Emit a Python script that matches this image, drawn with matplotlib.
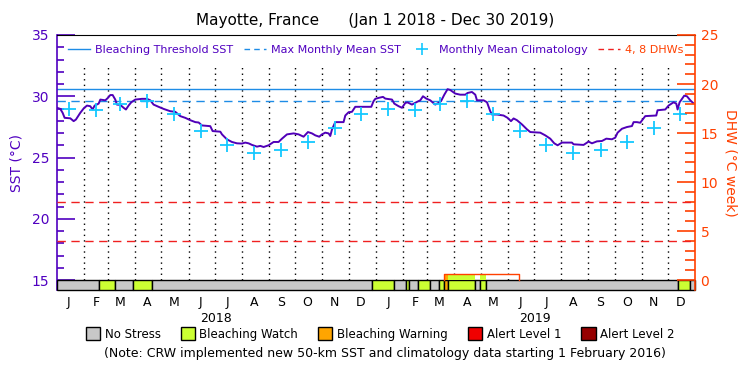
import numpy as np
import matplotlib
matplotlib.use('Agg')
import matplotlib.pyplot as plt
from matplotlib.patches import Patch, Rectangle
from matplotlib.lines import Line2D
import matplotlib.transforms as mtrans

# ---------------- data ----------------
title = "Mayotte, France      (Jan 1 2018 - Dec 30 2019)"
month_letters = ["J", "F", "M", "A", "M", "J", "J", "A", "S", "O", "N", "D"]
years = ["2018", "2019"]

# SST (days since 2018-01-01, degC)
sst_day = [0.5, 4.3, 7, 9.3, 15.8, 19.6, 22.2, 27.2, 31, 34.8, 38.6, 41.3, 43.6, 48.2, 50.1,
           55.8, 58.8, 61.5, 64.2, 67.2, 69.1, 72.9, 76.7, 79.4, 82.4, 85.5, 90.1, 97.7, 103.4,
           107.2, 111, 116.7, 122.4, 130.1, 135.8, 141.5, 147.2, 152.9, 158.7, 162.5, 166.3,
           175.8, 178.5, 187.3, 189.2, 194.9, 200.6, 206.3, 212, 215.8, 219.6, 223.5, 229.2,
           233, 236.8, 242.5, 248.2, 253.9, 257.8, 263.5, 271.1, 276.8, 282.5, 287.5, 292.1,
           295.9, 300.4, 303.5, 307.3, 311.1, 313, 315, 318.7, 328.2, 330.2, 334, 337.8, 341.6,
           359.9, 362.5, 364.5, 368.3, 373.3, 375.9, 383.6, 386.2, 391.1, 395, 398.8, 401.4,
           406.4, 412.1, 415.9, 419, 422.8, 427.3, 433, 436.8, 439.6, 443.4, 447.1, 450.2,
           455.9, 461.6, 467.4, 470, 475, 478.8, 480.7, 488.3, 492.2, 495.9, 497.9, 503.6,
           511.1, 515.7, 519.6, 522.6, 526.4, 532.2, 537.9, 541.7, 553.1, 558.8, 564.5, 569.1,
           572.9, 577.9, 589.3, 591.2, 602.6, 608.3, 612.2, 617.9, 623.6, 628.6, 635, 638.8,
           641.5, 646.5, 652.2, 657.9, 659.8, 663.6, 667.4, 673.1, 685.7, 687.2, 696, 699.8,
           705.5, 708.6, 710.1, 712.4, 717.7, 720.8, 724.6, 727.7]
sst_val = [29.06, 28.97, 28.65, 28.24, 28.2, 27.97, 28.1, 28.65, 29.0, 29.24, 29.19, 28.92, 29.24,
           29.4, 29.73, 29.67, 29.87, 30.1, 30.1, 29.73, 29.32, 29.3, 29.06, 28.92, 29.24, 29.51,
           29.73, 29.79, 29.79, 29.67, 29.32, 29.14, 28.97, 28.78, 28.73, 28.38, 28.24, 28.05,
           27.89, 27.86, 27.62, 27.56, 27.16, 27.11, 26.89, 26.48, 26.27, 26.16, 26.14, 26.22,
           26.16, 26.03, 25.89, 25.95, 25.86, 26.0, 26.27, 26.27, 26.54, 26.89, 26.97, 26.89,
           26.7, 27.08, 26.97, 26.81, 26.7, 26.89, 27.03, 26.97, 26.76, 27.3, 27.89, 27.89,
           28.43, 28.7, 28.73, 29.14, 29.14, 29.6, 29.79, 29.87, 29.95, 29.81, 29.73, 29.4,
           29.19, 29.06, 29.46, 29.5, 29.32, 29.54, 29.67, 30.0, 29.81, 29.67, 29.32, 29.46,
           29.6, 30.13, 30.58, 30.51, 30.22, 30.13, 30.13, 30.27, 30.35, 30.13, 29.67, 29.67,
           29.51, 28.78, 28.51, 28.51, 28.43, 28.24, 27.97, 28.19, 28.05, 27.7, 27.3, 27.08,
           27.03, 26.81, 26.54, 26.16, 26.0, 26.22, 26.22, 26.08, 26.03, 26.3, 26.16, 26.32,
           26.35, 26.54, 26.49, 26.62, 27.03, 27.35, 27.49, 27.57, 27.89, 27.89, 27.84, 28.38,
           28.43, 28.86, 28.92, 29.24, 29.51, 29.4, 28.92, 29.51, 30.05, 30.0, 29.67, 29.46]

# Monthly mean climatology (Jan..Dec), repeated for both years
clim = [28.97, 28.88, 29.39, 29.62, 28.57, 27.18, 26.05, 25.4, 25.65, 26.3, 27.4, 28.58]
mmm = 29.62
threshold = 30.62
dhw_levels = [4, 8]

# Bleaching alert stress level segments (start day, level); 0=no stress, 1=watch, 2=warning
stress_start = [0, 49, 67, 87.5, 109, 361, 385.5, 399.5, 403, 413.5, 427.5, 437, 443.5, 448,
                479, 484, 490.5, 710, 724.5]
stress_level = [0, 1, 0, 1, 0, 1, 0, 1, 0, 1, 0, 1, 2, 1, 0, 1, 0, 1, 0]
period_end = 730

# DHW (degC-week): non-zero episode (start day, end day, value)
dhw_start = [443.5]
dhw_end = [529]
dhw_val = [0.6]

level_names = ["No Stress", "Bleaching Watch", "Bleaching Warning", "Alert Level 1", "Alert Level 2"]
level_colors = ["#C8C8C8", "#CCFF33", "#FFA500", "#F00000", "#960000"]

note = "(Note: CRW implemented new 50-km SST and climatology data starting 1 February 2016)"

# ---------------- styling ----------------
PURPLE = "#5000C0"
SSTC = "#5000B8"
BLUE = "#1E8CE6"
CYAN = "#14C8FF"
RED = "#F02020"
ORANGE = "#FF4000"

plt.rcParams['font.family'] = ['DejaVu Sans']

fig = plt.figure(figsize=(7.5, 3.75), dpi=100)
ax = fig.add_axes([56.5 / 750, 1 - 290 / 375, (695 - 56.5) / 750, (290 - 35) / 375])
ymin, ymax = 14.19, 35.0
ax.set_xlim(0, period_end)
ax.set_ylim(ymin, ymax)

# month positions
months = np.arange(np.datetime64('2018-01'), np.datetime64('2020-01'), dtype='datetime64[M]')
month_start = (months.astype('datetime64[D]') - np.datetime64('2018-01-01')).astype(float)
month_mid = month_start + 14

# dotted month lines
for d in month_start[1:]:
    ax.plot([d, d], [15, 32.6], color='black', ls=(0, (1, 3)), lw=1.0, zorder=1)

# threshold lines
ax.axhline(threshold, color=BLUE, lw=1.0, zorder=2)
ax.axhline(mmm, color=BLUE, lw=1.0, ls=(0, (6, 4)), zorder=2)

# SST
ax.plot(sst_day, sst_val, color=SSTC, lw=1.4, zorder=4)

# climatology
clim_all = clim + clim
ax.plot(month_mid, clim_all, ls='none', marker='+', ms=10, mew=1.3, color=CYAN, zorder=5)

# stress bar
ends = stress_start[1:] + [period_end]
for s, e, lv in zip(stress_start, ends, stress_level):
    ax.add_patch(Rectangle((s, ymin), e - s, 15 - ymin, facecolor=level_colors[lv],
                           edgecolor='black', lw=1.0, zorder=6, clip_on=False))

# right axis (DHW)
ax2 = ax.twinx()
ax2.set_ylim((ymin - 15) * 1.25, (ymax - 15) * 1.25)
ax2.set_xlim(0, period_end)
for lvl in dhw_levels:
    ax2.axhline(lvl, color=RED, lw=1.0, ls=(0, (6, 4)), zorder=2)

# DHW fill coloured by stress level, with outline
for a, b, v in zip(dhw_start, dhw_end, dhw_val):
    for s, e, lv in zip(stress_start, ends, stress_level):
        lo, hi = max(a, s), min(b, e)
        if hi > lo and lv > 0:
            ax2.fill_between([lo, hi], 0, v, color=level_colors[lv], lw=0, zorder=3)
    ax2.plot([a, a, b, b], [0, v, v, 0], color=ORANGE, lw=1.0, zorder=4)

# ticks & spines
ax.set_yticks([15, 20, 25, 30, 35])
ax.set_yticks(np.arange(15, 36, 1), minor=True)
ax.tick_params(axis='y', which='major', direction='in', length=13, width=1.2, colors=PURPLE,
               labelsize=10, pad=5)
ax.tick_params(axis='y', which='minor', direction='in', length=5, width=1.2, colors=PURPLE)
ax.set_xticks([])
ax.spines['left'].set_color(PURPLE)
ax.spines['left'].set_linewidth(1.2)
ax.spines['top'].set_color('black')
ax.spines['bottom'].set_visible(False)
ax.spines['right'].set_visible(False)

ax2.set_yticks([0, 5, 10, 15, 20, 25])
ax2.set_yticks(np.arange(0, 26, 1), minor=True)
ax2.tick_params(axis='y', which='major', direction='in', length=13, width=1.2, colors=ORANGE,
                labelsize=10, pad=4)
ax2.tick_params(axis='y', which='minor', direction='in', length=7, width=1.2, colors=ORANGE)
ax2.spines['right'].set_color(ORANGE)
ax2.spines['right'].set_linewidth(1.2)
for sp in ['left', 'top', 'bottom']:
    ax2.spines[sp].set_visible(False)

ax.set_ylabel("SST (°C)", color=PURPLE, fontsize=10, labelpad=6)
ax2.set_ylabel("DHW (°C week)", color=ORANGE, fontsize=10, rotation=270, labelpad=14)

# month & year labels
trans = mtrans.blended_transform_factory(ax.transData, ax.transAxes)
for i, d in enumerate(month_mid):
    ax.text(d, -0.025, month_letters[i % 12], transform=trans, ha='center', va='top', fontsize=9)
for j, yl in enumerate(years):
    ax.text(182.5 + 365 * j, -0.085, yl, transform=trans, ha='center', va='top', fontsize=9)

# title
fig.text(0.5, 1 - 20 / 375, title, ha='center', va='center', fontsize=11)

# top legend
handles = [Line2D([], [], color=BLUE, lw=1.0),
           Line2D([], [], color=BLUE, lw=1.0, ls=(0, (4, 3))),
           Line2D([], [], color=CYAN, ls='none', marker='+', ms=8, mew=1.2),
           Line2D([], [], color=RED, lw=1.0, ls=(0, (4, 3)))]
labels = ["Bleaching Threshold SST", "Max Monthly Mean SST", "Monthly Mean Climatology", "4, 8 DHWs"]
leg = ax2.legend(handles, labels, loc='upper center', bbox_to_anchor=(0.5, 1.0), ncol=4,
                 frameon=False, fontsize=8, handlelength=2.0, handletextpad=0.5,
                 columnspacing=0.9, labelcolor=[PURPLE, PURPLE, PURPLE, ORANGE])

# bottom legend
phandles = [Patch(facecolor=c, edgecolor='black', lw=1.0) for c in level_colors]
fig.legend(phandles, level_names, loc='center', bbox_to_anchor=(0.507, 1 - 334 / 375), ncol=5,
           frameon=False, fontsize=8.5, handlelength=1.2, handleheight=1.2, handletextpad=0.4,
           columnspacing=1.7)

fig.text(0.513, 1 - 354 / 375, note, ha='center', va='center', fontsize=9)

fig.savefig('out.png', dpi=100)
